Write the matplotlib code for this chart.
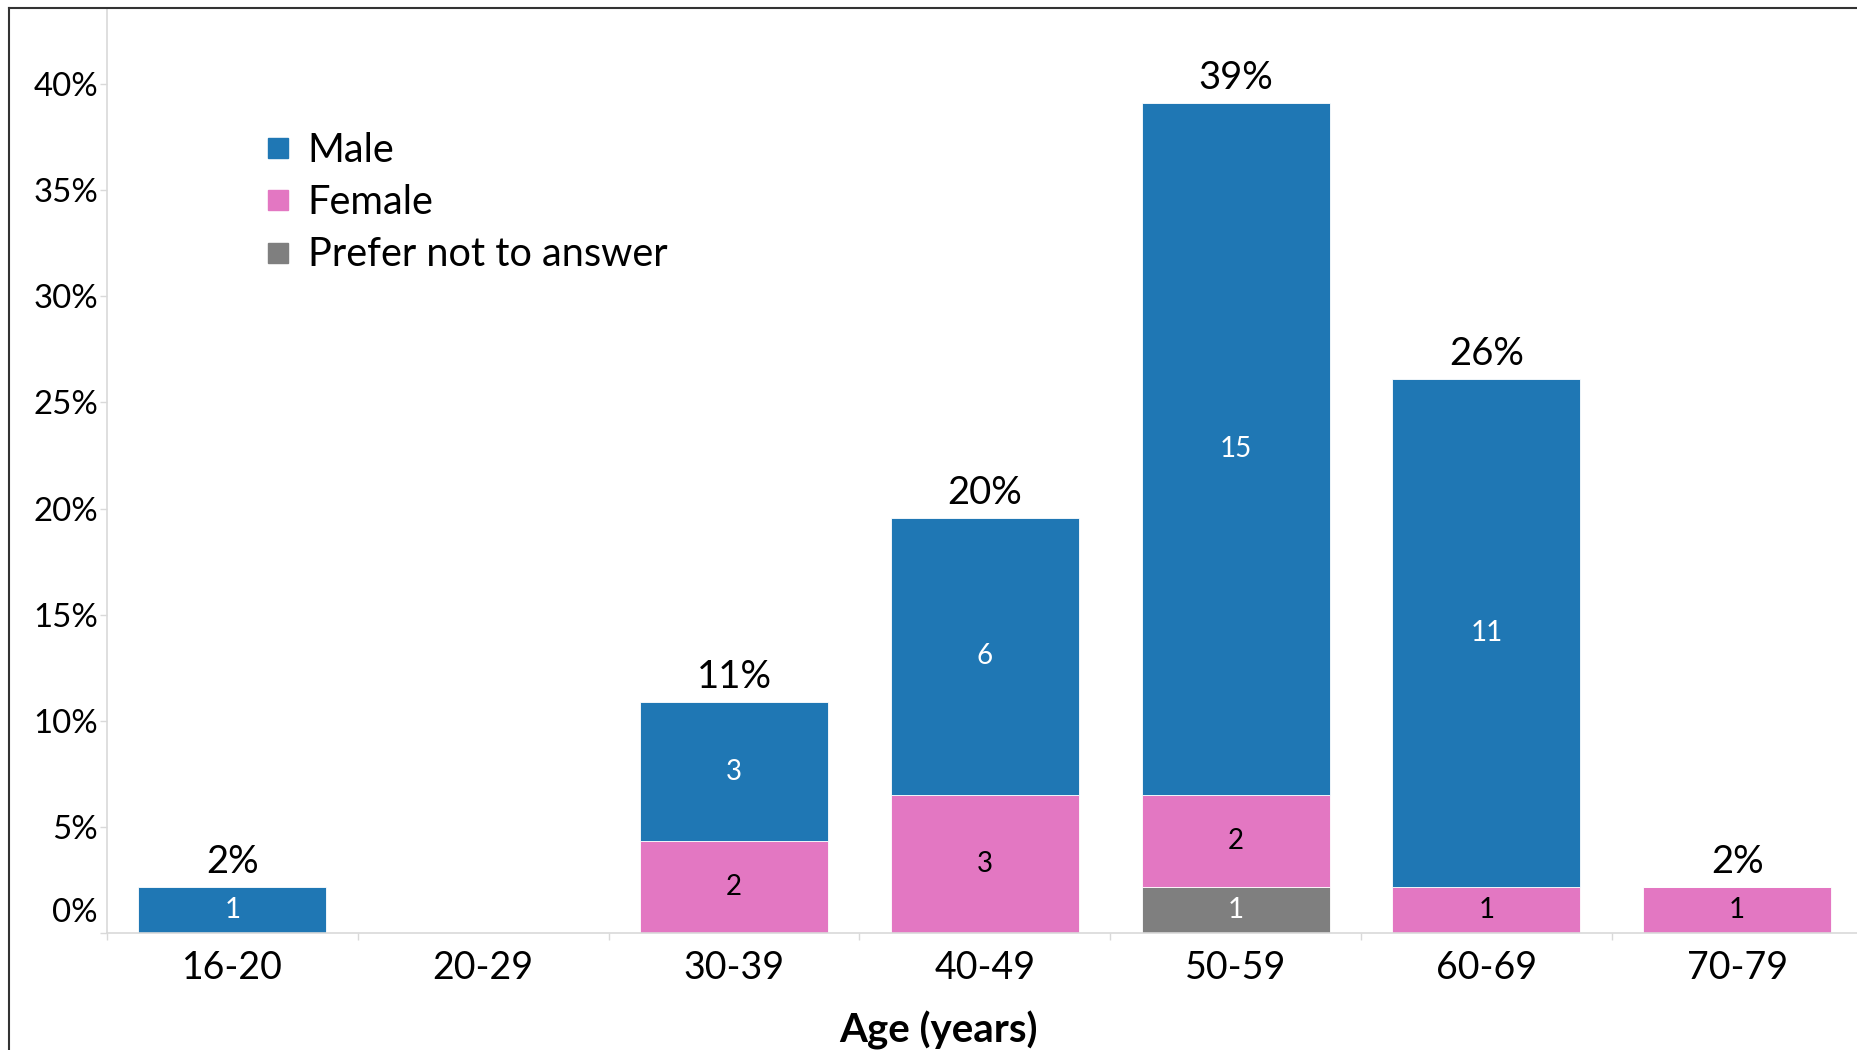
import matplotlib
matplotlib.use("Agg")
import matplotlib.pyplot as plt
from matplotlib.lines import Line2D
import matplotlib.transforms as mtransforms
import numpy as np

# ---- data ----
categories = ["16-20", "20-29", "30-39", "40-49", "50-59", "60-69", "70-79"]
male = [1, 0, 3, 6, 15, 11, 0]
female = [0, 0, 2, 3, 2, 1, 1]
prefer_not = [0, 0, 0, 0, 1, 0, 0]
series_names = ["Male", "Female", "Prefer not to answer"]
colors = ["#1F77B4", "#E377C2", "#7F7F7F"]
label_colors = ["white", "black", "white"]
ytick_values = [0, 0.05, 0.10, 0.15, 0.20, 0.25, 0.30, 0.35, 0.40]
ytick_labels = ["0%", "5%", "10%", "15%", "20%", "25%", "30%", "35%", "40%"]
xlabel = "Age (years)"

plt.rcParams['font.family'] = ['Lato', 'DejaVu Sans']

W, H = 1858, 1050
fig = plt.figure(figsize=(W / 100, H / 100), dpi=100)
ax_left = 107 / W
ax_bottom = (H - 933) / H
ax_w = (1862.6 - 107) / W
ax_h = (933 - 8) / H
ax = fig.add_axes([ax_left, ax_bottom, ax_w, ax_h])

male_a = np.array(male, dtype=float)
female_a = np.array(female, dtype=float)
prefer_a = np.array(prefer_not, dtype=float)
totals = male_a + female_a + prefer_a
grand = totals.sum()
x = np.arange(len(categories))

# stack order bottom -> top: prefer, female, male
stack = [(prefer_a, 2), (female_a, 1), (male_a, 0)]
bottom = np.zeros(len(categories))
for vals, idx in stack:
    frac = vals / grand
    ax.bar(x, frac, width=0.75, bottom=bottom, color=colors[idx],
           edgecolor="white", linewidth=0.6, label=series_names[idx])
    for xi, v, f, b in zip(x, vals, frac, bottom):
        if v > 0:
            ax.text(xi, b + f / 2, f"{int(v)}", ha="center", va="center",
                    fontsize=20, color=label_colors[idx])
    bottom = bottom + frac

for xi, t in zip(x, totals):
    if t > 0:
        ax.annotate(f"{round(t / grand * 100):.0f}%", (xi, t / grand),
                    xytext=(0, 5), textcoords="offset points",
                    ha="center", va="bottom", fontsize=27.5, color="black")

ax.set_xlim(-0.5, len(categories) - 0.5)
ax.set_ylim(0, 0.4359)

# y axis
ax.set_yticks(ytick_values)
ax.set_yticklabels(ytick_labels, fontsize=23.8)
ax.tick_params(axis="y", length=5, width=1, color="#d9d9d9", pad=1.5)
zero_lbl = ax.yaxis.get_major_ticks()[0].label1
zero_lbl.set_verticalalignment("bottom")
zero_lbl.set_transform(zero_lbl.get_transform() +
                       mtransforms.ScaledTranslation(0, 0.05, fig.dpi_scale_trans))

# x axis: boundary ticks (major) and centered labels (minor)
ax.set_xticks(np.arange(-0.5, len(categories), 1.0))
ax.set_xticklabels([])
ax.set_xticks(x, minor=True)
ax.set_xticklabels(categories, minor=True, fontsize=27)
ax.tick_params(axis="x", which="major", length=5, width=1, color="#d9d9d9")
ax.tick_params(axis="x", which="minor", length=0, pad=12)

for s in ["top", "right"]:
    ax.spines[s].set_visible(False)
for s in ["left", "bottom"]:
    ax.spines[s].set_color("#d9d9d9")
    ax.spines[s].set_linewidth(1.2)

ax.set_xlabel(xlabel, fontsize=29, fontweight="bold")
ax.xaxis.set_label_coords((938.5 - 107) / (1862.6 - 107), -(1030 - 933) / 925)
ax.xaxis.label.set_verticalalignment("center")

# legend
leg_handles = [Line2D([], [], linestyle="none", marker="s", markersize=14,
                      markerfacecolor=colors[i], markeredgecolor=colors[i])
               for i in range(3)]
ax.legend(leg_handles, series_names, loc="upper left",
          bbox_to_anchor=((268 - 107) / 1755.6, 1 - (131.5 - 8) / 925),
          frameon=False, fontsize=28.6, handlelength=0.5, handletextpad=0.5,
          labelspacing=0.39, borderaxespad=0, borderpad=0)

# figure border (left and top)
x0 = 9.5 / W
y1 = 1 - 7.5 / H
fig.add_artist(Line2D([x0, x0], [0, y1], color="#333333", linewidth=1.5,
                      transform=fig.transFigure))
fig.add_artist(Line2D([x0, 1], [y1, y1], color="#333333", linewidth=1.5,
                      transform=fig.transFigure))

fig.savefig("out.png", dpi=100)
